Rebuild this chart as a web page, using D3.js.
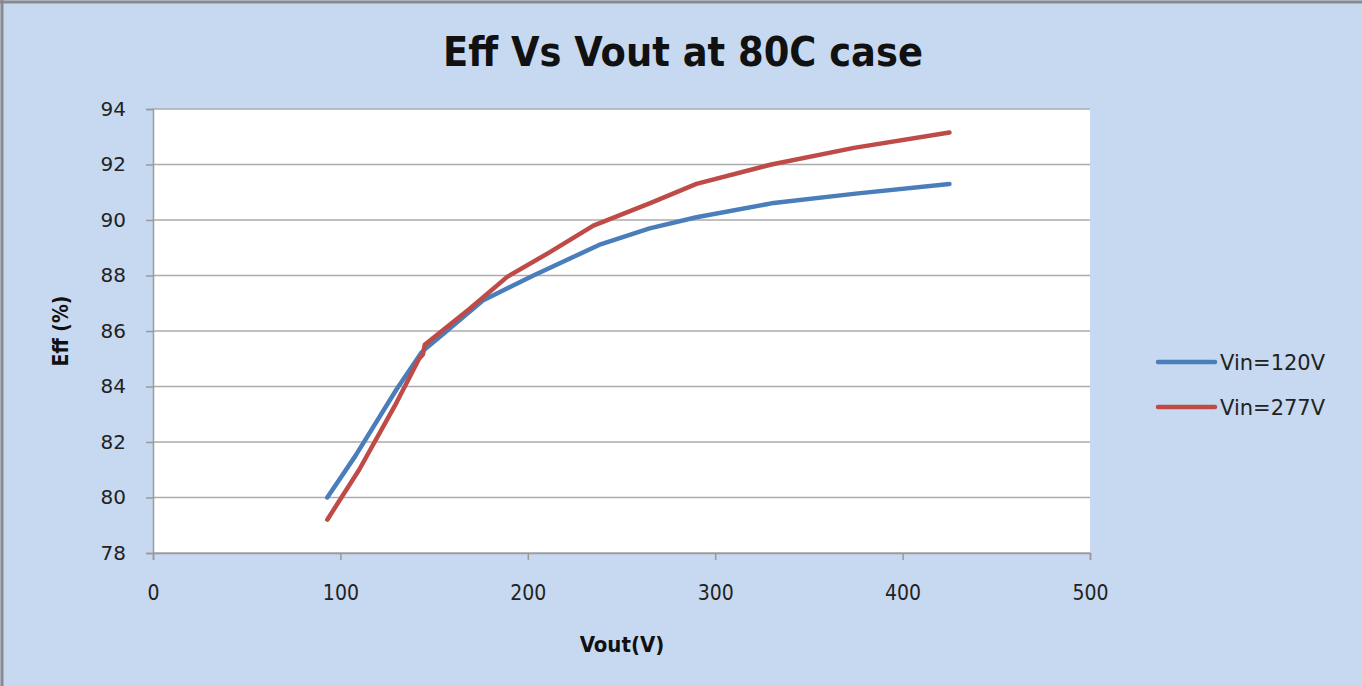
<!DOCTYPE html>
<html>
<head>
<meta charset="utf-8">
<script src="https://cdn.jsdelivr.net/npm/d3@7"></script>
<style>
	body { margin: 0; background: #fff; }
	svg { display: block; }
	.narrow { font-family: "Liberation Sans Narrow", "DejaVu Sans Condensed", sans-serif; }
	.wide { font-family: "DejaVu Sans", Verdana, sans-serif; }
</style>
</head>
<body>
<div id="chart"></div>
<script>
// Vin = 120V
var vout120 = [93, 108, 130, 143, 146, 155, 176, 203, 238, 265, 290, 330, 375, 425]
var eff120 = [80.0, 81.5, 83.9, 85.2, 85.4, 85.9, 87.1, 88.0, 89.1, 89.7, 90.1, 90.6, 90.95, 91.3]

// Vin = 277V
var vout277 = [93, 110, 129, 142, 144, 145, 169, 189, 212, 235, 265, 290, 330, 374, 425]
var eff277 = [79.2, 81.0, 83.3, 85.0, 85.15, 85.5, 86.8, 87.95, 88.85, 89.8, 90.6, 91.3, 92.0, 92.6, 93.15]

var seriesNames = ["Vin=120V", "Vin=277V"]
var seriesColors = ["#4A7EBB", "#BE4B48"]
var xTicks = [0, 100, 200, 300, 400, 500]
var yTicks = [78, 80, 82, 84, 86, 88, 90, 92, 94]

var WIDTH = 1362, HEIGHT = 686
var PLOT = {left: 153, right: 1090, top: 109, bottom: 553}

var svg = d3.select("#chart").append("svg")
	.attr("width", WIDTH)
	.attr("height", HEIGHT)

svg.append("rect")
	.attr("x", 0).attr("y", 0)
	.attr("width", WIDTH).attr("height", HEIGHT)
	.attr("fill", "#C6D9F0")

// outer frame (top + left only visible)
svg.append("line")
	.attr("x1", 0).attr("x2", WIDTH).attr("y1", 2).attr("y2", 2)
	.attr("stroke", "#8a8a8a").attr("stroke-width", 3)
svg.append("line")
	.attr("x1", 2).attr("x2", 2).attr("y1", 0).attr("y2", HEIGHT)
	.attr("stroke", "#8a8a8a").attr("stroke-width", 3)

svg.append("rect")
	.attr("x", PLOT.left).attr("y", PLOT.top)
	.attr("width", PLOT.right - PLOT.left).attr("height", PLOT.bottom - PLOT.top)
	.attr("fill", "#fff")

var x = d3.scaleLinear().domain([0, 500]).range([PLOT.left, PLOT.right])
var y = d3.scaleLinear().domain([78, 94]).range([PLOT.bottom, PLOT.top])

// gridlines
svg.selectAll(".grid")
	.data(yTicks)
	.enter()
	.append("line")
	.attr("class", "grid")
	.attr("x1", PLOT.left).attr("x2", PLOT.right)
	.attr("y1", function(d){ return y(d) })
	.attr("y2", function(d){ return y(d) })
	.attr("stroke", "#ABABAB")
	.attr("stroke-width", 1.5)

// y axis
var yAxis = svg.append("g")
	.attr("transform", "translate(" + PLOT.left + ",0)")
	.call(d3.axisLeft(y).tickValues(yTicks).tickSize(7).tickPadding(20))
yAxis.select(".domain").attr("stroke", "#9a9a9a").attr("stroke-width", 1.5)
yAxis.selectAll(".tick line").attr("stroke", "#9a9a9a").attr("stroke-width", 1.5)
yAxis.selectAll(".tick text")
	.attr("class", "wide")
	.attr("font-size", 20)
	.attr("fill", "#222")

// x axis
var xAxis = svg.append("g")
	.attr("transform", "translate(0," + PLOT.bottom + ")")
	.call(d3.axisBottom(x).tickValues(xTicks).tickSize(7).tickPadding(25))
xAxis.select(".domain").attr("stroke", "#9a9a9a").attr("stroke-width", 1.5)
xAxis.selectAll(".tick line").attr("stroke", "#9a9a9a").attr("stroke-width", 1.5)
xAxis.selectAll(".tick text")
	.attr("class", "narrow")
	.attr("font-size", 21)
	.attr("fill", "#222")

var series = [
	{name: seriesNames[0], color: seriesColors[0], xs: vout120, ys: eff120},
	{name: seriesNames[1], color: seriesColors[1], xs: vout277, ys: eff277}
]

var line = d3.line()
	.x(function(d){ return x(d[0]) })
	.y(function(d){ return y(d[1]) })

svg.selectAll(".series")
	.data(series)
	.enter()
	.append("path")
	.attr("class", "series")
	.attr("d", function(s){ return line(d3.zip(s.xs, s.ys)) })
	.attr("fill", "none")
	.attr("stroke", function(s){ return s.color })
	.attr("stroke-width", 4.5)
	.attr("stroke-linejoin", "round")
	.attr("stroke-linecap", "round")

// title + axis titles
svg.append("text")
	.attr("class", "narrow")
	.attr("x", 683).attr("y", 66)
	.attr("text-anchor", "middle")
	.attr("font-size", 41)
	.attr("font-weight", "bold")
	.attr("fill", "#111")
	.text("Eff Vs Vout at 80C case")

svg.append("text")
	.attr("class", "narrow")
	.attr("x", 622).attr("y", 652)
	.attr("text-anchor", "middle")
	.attr("font-size", 22)
	.attr("font-weight", "bold")
	.attr("fill", "#111")
	.text("Vout(V)")

svg.append("text")
	.attr("class", "narrow")
	.attr("transform", "translate(68,331) rotate(-90)")
	.attr("text-anchor", "middle")
	.attr("font-size", 21)
	.attr("font-weight", "bold")
	.attr("fill", "#111")
	.text("Eff (%)")

// legend
var legend = svg.selectAll(".legend")
	.data(series)
	.enter()
	.append("g")
	.attr("class", "legend")
	.attr("transform", function(d,i){ return "translate(1158," + (362 + i*45) + ")" })

legend.append("line")
	.attr("x1", 0).attr("x2", 57)
	.attr("stroke", function(d){ return d.color })
	.attr("stroke-width", 4.5)
	.attr("stroke-linecap", "round")

legend.append("text")
	.attr("class", "wide")
	.attr("x", 62).attr("y", 7.5)
	.attr("font-size", 21)
	.attr("fill", "#222")
	.text(function(d){ return d.name })
</script>
</body>
</html>
